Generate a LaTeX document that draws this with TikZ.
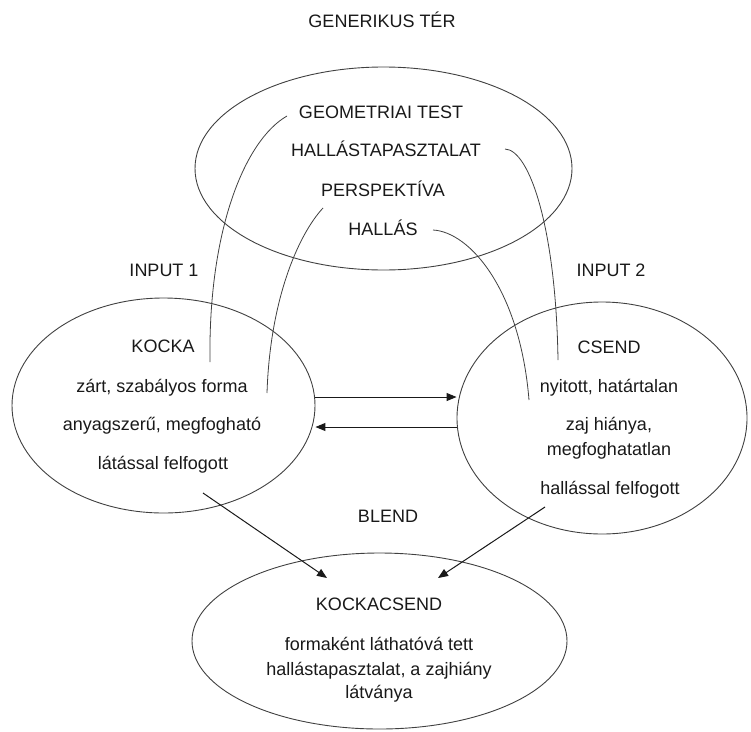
\documentclass[tikz,border=0pt]{standalone}
\usepackage{fontspec}
\setmainfont{Liberation Sans}
\usetikzlibrary{shapes.geometric,arrows.meta}
\begin{document}
\begin{tikzpicture}[x=1pt,y=-1pt,
  txt/.style={inner sep=0pt, font=\fontsize{18}{22}\selectfont, text height=13pt, text depth=0pt, text=black!90},
  ell/.style={draw=black!75, line width=0.9pt, ellipse, inner sep=0pt},
  link/.style={draw=black!75, line width=0.8pt},
  arr/.style={draw=black!90, line width=1pt, -{Triangle[length=10pt,width=8pt]}}]
\useasboundingbox (0,0) rectangle (751,731);

% ellipses
\node[ell, minimum width=377pt, minimum height=203pt] (G) at (383.5,168.5) {};
\node[ell, minimum width=303pt, minimum height=215pt] (L) at (163.5,405.5) {};
\node[ell, minimum width=290pt, minimum height=232pt] (R) at (602,418) {};
\node[ell, minimum width=375pt, minimum height=176pt] (B) at (379.5,641) {};

% labels
\node[txt] (gen) at (382,21) {GENERIKUS TÉR};
\node[txt] (in1) at (164,270) {INPUT 1};
\node[txt] (in2) at (611,270) {INPUT 2};
\node[txt] (blend) at (388,516) {BLEND};

% generic space
\node[txt] (g1) at (381,111.5) {GEOMETRIAI TEST};
\node[txt] (g2) at (386,150) {HALLÁSTAPASZTALAT};
\node[txt] (g3) at (383,190) {PERSPEKTÍVA};
\node[txt] (g4) at (383,229) {HALLÁS};

% input 1
\node[txt] (k1) at (163,346) {KOCKA};
\node[txt] (k2) at (162,386) {zárt, szabályos forma};
\node[txt] (k3) at (162,424) {anyagszerű, megfogható};
\node[txt] (k4) at (163,463) {látással felfogott};

% input 2
\node[txt] (c1) at (609,347) {CSEND};
\node[txt] (c2) at (609,386) {nyitott, határtalan};
\node[txt] (c3) at (609,424) {zaj hiánya,};
\node[txt] (c3b) at (609,449) {megfoghatatlan};
\node[txt] (c4) at (610,488) {hallással felfogott};

% blend
\node[txt] (b1) at (379,604) {KOCKACSEND};
\node[txt] (b2) at (379,644) {formaként láthatóvá tett};
\node[txt] (b3) at (379,669) {hallástapasztalat, a zajhiány};
\node[txt] (b4) at (379,692) {látványa};

% connector end points
\coordinate (s1) at (287,116);  \coordinate (e1) at (210,362);
\coordinate (s2) at (323,208);  \coordinate (e2) at (267,393);
\coordinate (s3) at (505,149);  \coordinate (e3) at (558,360);
\coordinate (s4) at (433,230);  \coordinate (e4) at (529,400);

\draw[link] (s1) .. controls (245,140) and (208,230) .. (e1);
\draw[link] (s2) .. controls (298,235) and (270,300) .. (e2);
\draw[link] (s3) .. controls (530,150) and (556,230) .. (e3);
\draw[link] (s4) .. controls (470,232) and (520,290) .. (e4);

% horizontal arrows
\draw[arr] (L.east |- 0,397) -- (R.west |- 0,397);
\draw[arr] (R.west |- 0,427) -- (L.east |- 0,427);

% diagonal arrows
\coordinate (d1s) at (203,493); \coordinate (d1e) at (327,578);
\coordinate (d2s) at (545,507); \coordinate (d2e) at (438,578);
\draw[arr] (d1s) -- (d1e);
\draw[arr] (d2s) -- (d2e);
\end{tikzpicture}
\end{document}
